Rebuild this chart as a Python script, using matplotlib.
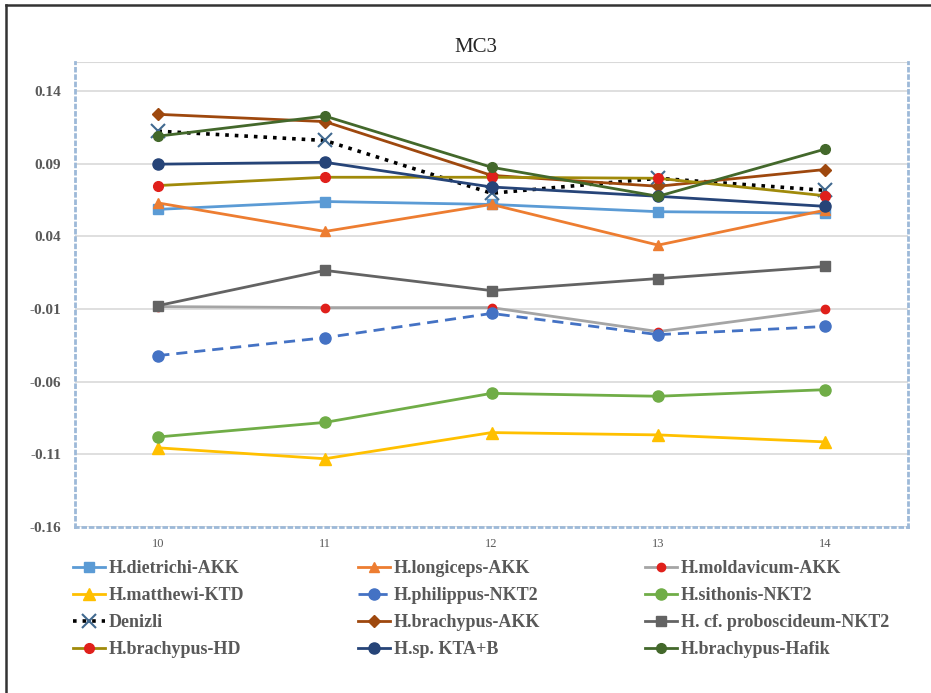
import matplotlib.pyplot as plt
from matplotlib.lines import Line2D

plt.rcParams['font.family'] = ['Liberation Serif', 'DejaVu Serif']

x_vals = [10, 11, 12, 13, 14]

names = ['H.dietrichi-AKK', 'H.longiceps-AKK', 'H.moldavicum-AKK',
         'H.matthewi-KTD', 'H.philippus-NKT2', 'H.sithonis-NKT2',
         'Denizli', 'H.brachypus-AKK', 'H. cf. proboscideum-NKT2',
         'H.brachypus-HD', 'H.sp. KTA+B', 'H.brachypus-Hafik']

dietrichi = [0.0586, 0.064, 0.062, 0.057, 0.056]
longiceps = [0.063, 0.0434, 0.062, 0.034, 0.058]
moldavicum = [-0.0083, -0.009, -0.009, -0.0255, -0.0103]
matthewi = [-0.1055, -0.113, -0.095, -0.0966, -0.1014]
philippus = [-0.042, -0.0297, -0.013, -0.0276, -0.022]
sithonis = [-0.098, -0.088, -0.068, -0.070, -0.0655]
denizli = [0.1124, 0.106, 0.0697, 0.080, 0.0717]
brachypus_akk = [0.124, 0.119, 0.082, 0.0745, 0.086]
proboscideum = [-0.0076, 0.0166, 0.0027, 0.011, 0.0193]
brachypus_hd = [0.075, 0.0807, 0.0807, 0.080, 0.068]
sp_kta = [0.0897, 0.091, 0.074, 0.0676, 0.0607]
hafik = [0.109, 0.1228, 0.0876, 0.0676, 0.100]

y_ticks = [-0.16, -0.11, -0.06, -0.01, 0.04, 0.09, 0.14]

series = [dietrichi, longiceps, moldavicum, matthewi, philippus, sithonis,
          denizli, brachypus_akk, proboscideum, brachypus_hd, sp_kta, hafik]

# (line colour, marker, marker colour, marker size, linestyle)
styles = [
    ('#5B9BD5', 's', '#5B9BD5', 7, '-'),
    ('#ED7D31', '^', '#ED7D31', 7, '-'),
    ('#A5A5A5', 'o', '#E0201B', 6, '-'),
    ('#FFC000', '^', '#FFC000', 8, '-'),
    ('#4472C4', 'o', '#4472C4', 8, (0, (4, 2.5))),
    ('#70AD47', 'o', '#70AD47', 8, '-'),
    ('#000000', 'x', '#41698F', 10, ':'),
    ('#9E480E', 'D', '#9E480E', 6, '-'),
    ('#636363', 's', '#636363', 7, '-'),
    ('#A08A0A', 'o', '#E0201B', 7, '-'),
    ('#264478', 'o', '#264478', 8, '-'),
    ('#43682B', 'o', '#43682B', 7, '-'),
]

fig = plt.figure(figsize=(9.31, 6.93), dpi=100)
ax = fig.add_axes([0.0806, 0.2395, 0.8947, 0.671])

handles = []
for vals, name, st in zip(series, names, styles):
    lc, mk, mc, ms, ls = st
    lw = 2.6 if ls == ':' else 2.0
    h, = ax.plot(x_vals, vals, color=lc, linestyle=ls, linewidth=lw,
                 marker=mk, markersize=ms, markerfacecolor=mc,
                 markeredgecolor=mc, markeredgewidth=1.5 if mk == 'x' else 1,
                 label=name, zorder=3)
    handles.append(h)

ax.set_xlim(9.5, 14.5)
ax.set_ylim(-0.16, 0.16)
ax.set_xticks(x_vals)
ax.set_yticks(y_ticks)
ax.set_yticklabels(['%.2f' % v for v in y_ticks], fontsize=11,
                   fontweight='bold', color='#595959')
ax.set_xticklabels([str(v) for v in x_vals], fontsize=9, color='#595959')
ax.tick_params(axis='y', length=0, pad=10)
ax.tick_params(axis='x', length=0, pad=8)
ax.grid(axis='y', color='#D9D9D9', linewidth=1.2)
ax.axhline(0.16, color='#D9D9D9', linewidth=1.5)
for side in ['left', 'bottom', 'right']:
    ax.spines[side].set_color('#9DB9D8')
    ax.spines[side].set_linestyle(':')
    ax.spines[side].set_linewidth(2)
ax.spines['top'].set_visible(False)

fig.text(0.511, 0.932, 'MC3', ha='center', va='center', fontsize=15,
         color='#262626')

# three legend columns, filled row by row
col_x = [0.0605, 0.367, 0.675]
for c in range(3):
    hs = [handles[i] for i in range(c, 12, 3)]
    leg = fig.legend(handles=hs, loc='upper left',
                     bbox_to_anchor=(col_x[c], 0.215), frameon=False,
                     handlelength=1.8, handletextpad=0.2, labelspacing=0.55,
                     prop={'size': 13, 'weight': 'bold'})
    for t in leg.get_texts():
        t.set_color('#595959')

# partial outer frame (top and left)
fig.add_artist(Line2D([0.0064, 1.0], [0.9928, 0.9928], color='#333333',
                      linewidth=1.8, transform=fig.transFigure))
fig.add_artist(Line2D([0.0064, 0.0064], [0.0, 0.9928], color='#333333',
                      linewidth=1.8, transform=fig.transFigure))

fig.savefig('out.png', dpi=100)
